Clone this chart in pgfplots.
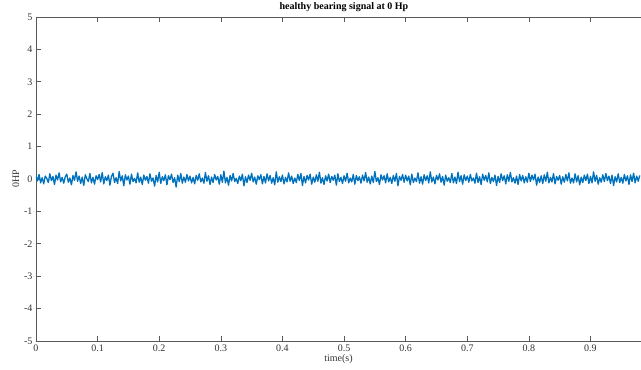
\documentclass[border=0pt]{standalone}
\usepackage{fontspec}
\setmainfont{Liberation Serif}
\usepackage{pgfplots}
\pgfplotsset{compat=1.18}
\definecolor{mblue}{RGB}{0,114,189}
\begin{document}
\begin{tikzpicture}
\begin{axis}[
  scale only axis, width=605pt, height=324pt,
  xmin=0, xmax=0.982, ymin=-5, ymax=5,
  axis x line=box, axis y line=left,
  axis line style={-, draw=black!65, line width=0.6pt},
  tick align=inside, major tick length=5pt,
  tick style={draw=black!65, line width=0.6pt},
  xtick={0,0.1,0.2,0.3,0.4,0.5,0.6,0.7,0.8,0.9},
  ytick={-5,-4,-3,-2,-1,0,1,2,3,4,5},
  /pgf/number format/assume math mode=true,
  ticklabel style={font=\fontsize{10}{12}\selectfont, text=black!80},
  xlabel={time(s)}, ylabel={0HP},
  label style={font=\fontsize{10}{12}\selectfont, text=black!80},
  xlabel style={yshift=4pt},
  ylabel style={yshift=-2pt},
  title={healthy bearing signal at 0 Hp},
  title style={at={(0.509,1)}, anchor=base, yshift=1.5pt, inner sep=0pt, font=\fontsize{10}{12}\selectfont\bfseries},
  clip=true,
]
\addplot[mblue, line width=1.3pt, line join=round] table[header=false, row sep=\\, x expr=\coordindex*0.0025, y index=0] {
0.10\\ -0.06\\ 0.14\\ -0.12\\ 0.04\\ -0.15\\ 0.09\\ 0.02\\ -0.11\\ 0.16\\
-0.05\\ 0.08\\ -0.17\\ 0.12\\ -0.03\\ 0.19\\ -0.09\\ 0.05\\ -0.13\\ 0.07\\
0.15\\ -0.10\\ 0.03\\ -0.18\\ 0.11\\ -0.04\\ 0.22\\ -0.07\\ 0.09\\ -0.14\\
0.06\\ -0.20\\ 0.13\\ 0.01\\ -0.08\\ 0.17\\ -0.12\\ 0.05\\ -0.16\\ 0.10\\
-0.02\\ 0.14\\ -0.09\\ 0.20\\ -0.15\\ 0.07\\ -0.05\\ 0.12\\ -0.19\\ 0.08\\
0.18\\ -0.11\\ 0.04\\ -0.14\\ 0.23\\ -0.06\\ 0.10\\ -0.21\\ 0.13\\ -0.03\\
0.09\\ -0.16\\ 0.15\\ -0.08\\ 0.02\\ -0.12\\ 0.19\\ -0.10\\ 0.06\\ -0.17\\
0.12\\ -0.04\\ 0.08\\ -0.13\\ 0.16\\ -0.07\\ 0.03\\ -0.22\\ 0.11\\ -0.09\\
0.21\\ -0.14\\ 0.07\\ -0.05\\ 0.13\\ -0.18\\ 0.10\\ -0.02\\ 0.15\\ -0.11\\
0.04\\ -0.25\\ 0.12\\ -0.08\\ 0.17\\ -0.13\\ 0.06\\ -0.10\\ 0.14\\ -0.06\\
0.09\\ -0.12\\ 0.05\\ -0.15\\ 0.11\\ -0.04\\ 0.16\\ -0.09\\ 0.03\\ -0.13\\
0.20\\ -0.07\\ 0.10\\ -0.17\\ 0.06\\ -0.11\\ 0.14\\ -0.03\\ 0.08\\ -0.16\\
0.13\\ -0.10\\ 0.24\\ -0.12\\ 0.05\\ -0.19\\ 0.11\\ -0.06\\ 0.17\\ -0.08\\
0.02\\ -0.14\\ 0.09\\ -0.05\\ 0.15\\ -0.21\\ 0.07\\ -0.11\\ 0.12\\ -0.04\\
0.18\\ -0.09\\ 0.06\\ -0.16\\ 0.10\\ -0.02\\ 0.13\\ -0.15\\ 0.08\\ -0.12\\
0.16\\ -0.06\\ 0.11\\ -0.13\\ 0.04\\ -0.18\\ 0.22\\ -0.10\\ 0.07\\ -0.08\\
0.12\\ -0.15\\ 0.05\\ -0.09\\ 0.19\\ -0.07\\ 0.09\\ -0.14\\ 0.03\\ -0.11\\
0.14\\ -0.05\\ 0.17\\ -0.20\\ 0.08\\ -0.12\\ 0.11\\ -0.03\\ 0.15\\ -0.16\\
0.06\\ -0.10\\ 0.13\\ -0.07\\ 0.21\\ -0.13\\ 0.04\\ -0.17\\ 0.10\\ -0.06\\
0.15\\ -0.11\\ 0.08\\ -0.04\\ 0.12\\ -0.19\\ 0.16\\ -0.08\\ 0.05\\ -0.14\\
0.10\\ -0.07\\ 0.18\\ -0.12\\ 0.03\\ -0.09\\ 0.14\\ -0.16\\ 0.11\\ -0.05\\
0.07\\ -0.13\\ 0.12\\ -0.06\\ 0.20\\ -0.10\\ 0.06\\ -0.15\\ 0.09\\ -0.11\\
0.23\\ -0.08\\ 0.04\\ -0.17\\ 0.13\\ -0.03\\ 0.10\\ -0.12\\ 0.16\\ -0.09\\
0.05\\ -0.14\\ 0.11\\ -0.07\\ 0.17\\ -0.21\\ 0.08\\ -0.04\\ 0.14\\ -0.10\\
0.12\\ -0.06\\ 0.09\\ -0.18\\ 0.15\\ -0.11\\ 0.03\\ -0.08\\ 0.19\\ -0.13\\
0.07\\ -0.16\\ 0.13\\ -0.05\\ 0.10\\ -0.12\\ 0.22\\ -0.09\\ 0.06\\ -0.15\\
0.11\\ -0.03\\ 0.16\\ -0.10\\ 0.08\\ -0.19\\ 0.12\\ -0.07\\ 0.04\\ -0.11\\
0.17\\ -0.12\\ 0.06\\ -0.14\\ 0.21\\ -0.08\\ 0.10\\ -0.16\\ 0.13\\ -0.05\\
0.09\\ -0.10\\ 0.14\\ -0.06\\ 0.03\\ -0.13\\ 0.18\\ -0.11\\ 0.07\\ -0.17\\
0.15\\ -0.04\\ 0.11\\ -0.09\\ 0.19\\ -0.14\\ 0.05\\ -0.08\\ 0.12\\ -0.20\\
0.08\\ -0.11\\ 0.16\\ -0.05\\ 0.10\\ -0.15\\ 0.13\\ -0.07\\ 0.20\\ -0.09\\
0.04\\ -0.13\\ 0.09\\ -0.17\\ 0.14\\ -0.06\\ 0.11\\ -0.12\\ 0.07\\ -0.10\\
0.18\\ -0.08\\ 0.12\\ -0.03\\ 0.15\\ -0.19\\ 0.06\\ -0.11\\ 0.10\\ -0.14\\
0.13\\ -0.07\\ 0.21\\ -0.12\\ 0.05\\ -0.09\\ 0.17\\ -0.15\\ 0.08\\ -0.04\\
0.11\\ -0.16\\ 0.07\\ -0.10\\ 0.14\\ -0.06\\ 0.19\\ -0.13\\ 0.03\\ -0.12\\
0.16\\ -0.09\\ 0.10\\ -0.18\\ 0.06\\ -0.11\\ 0.12\\ -0.05\\ 0.15\\ -0.14\\
0.08\\ -0.12\\ 0.22\\ -0.07\\ 0.11\\ -0.16\\ 0.04\\ -0.10\\ 0.13\\ -0.08\\
0.17\\ -0.05\\ 0.09\\ -0.14\\ 0.12\\ -0.20\\ 0.07\\ -0.09\\ 0.16\\ -0.11\\
0.05\\ -0.13\\ 0.14\\ -0.06\\ 0.10\\ -0.17\\ 0.13\\ -0.08\\ 0.18\\ -0.12\\
0.09\\ -0.07\\ 0.11\\
};
\end{axis}
\pgfresetboundingbox
\useasboundingbox (-36pt,-29pt) rectangle (605pt,341pt);
\end{tikzpicture}
\end{document}
